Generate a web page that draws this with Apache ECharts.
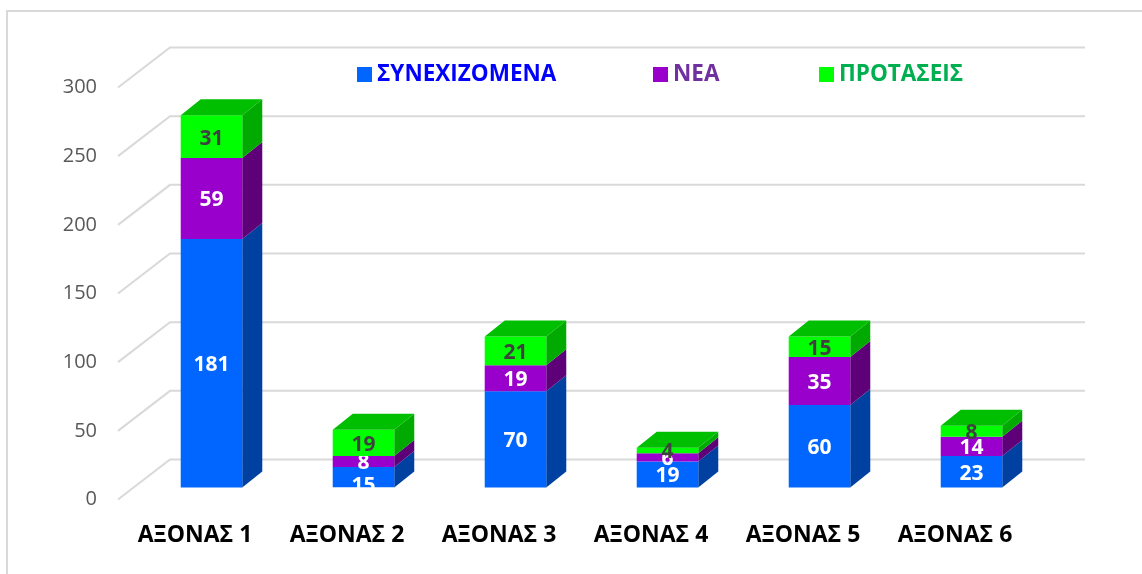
<!DOCTYPE html>
<html>
<head>
<meta charset="utf-8">
<style>html,body{margin:0;padding:0;background:#fff}#c{width:1142px;height:574px}</style>
<script src="https://cdn.jsdelivr.net/npm/echarts@6/dist/echarts.min.js"></script>
</head>
<body>
<div id="c"></div>
<script>
const categories = ['ΑΞΟΝΑΣ 1','ΑΞΟΝΑΣ 2','ΑΞΟΝΑΣ 3','ΑΞΟΝΑΣ 4','ΑΞΟΝΑΣ 5','ΑΞΟΝΑΣ 6'];
const continuing = [181,15,70,19,60,23];
const fresh = [59,8,19,6,35,14];
const proposals = [31,19,21,4,15,8];
const yTicks = [0,50,100,150,200,250,300];
const FONT = '"Open Sans", sans-serif';

const chart = echarts.init(document.getElementById('c'), null, {renderer:'canvas'});

const stackRows = (function(){
  const rows = [];
  const acc = categories.map(function(){return 0;});
  [continuing,fresh,proposals].forEach(function(arr){
    rows.push(arr.map(function(v,i){const r=[i,acc[i],acc[i]+v,v];acc[i]+=v;return r;}));
  });
  return rows;
})();

function barRenderer(front, side, top, labelColor, isTop){
  return function(params, api){
    const i = api.value(0), lo = api.value(1), hi = api.value(2), val = api.value(3);
    const a = api.coord([i,lo]), b = api.coord([i,hi]);
    const w = api.size([1,0])[0]*0.405;
    const ox = 16.5, oy = -12, dx = 20, dy = -16;
    const x0 = a[0]+ox-w/2, x1 = x0+w, y0 = a[1]+oy, y1 = b[1]+oy;
    const children = [
      {type:'polygon',shape:{points:[[x1,y0],[x1+dx,y0+dy],[x1+dx,y1+dy],[x1,y1]]},style:{fill:side}},
      {type:'rect',shape:{x:x0,y:y1,width:w,height:y0-y1},style:{fill:front}}
    ];
    if(isTop){
      children.push({type:'polygon',shape:{points:[[x0,y1],[x0+dx,y1+dy],[x1+dx,y1+dy],[x1,y1]]},style:{fill:top}});
    }
    // the reference pushes the label of the thin bottom segment of ΑΞΟΝΑΣ 2 down and cuts it at the floor
    const sunk = (lo === 0 && y0 - y1 < 24);
    const cy = (y0+y1)/2 + (sunk ? 9 : 2);
    children.push({type:'text',style:{text:String(val),x:(x0+x1)/2,y:cy,align:'center',verticalAlign:'middle',
      font:'bold 21px '+FONT,fill:labelColor}});
    if(sunk){
      children.push({type:'rect',shape:{x:x0,y:y0,width:w,height:14},style:{fill:'#ffffff'}});
    }
    return {type:'group',children:children};
  };
}

function gridRenderer(params, api){
  const v = api.value(0);
  const p = api.coord([0,v]);
  const cs = params.coordSys;
  const xa = cs.x-1, xb = xa+52, xe = cs.x+cs.width+54, y = p[1];
  return {type:'polyline',shape:{points:[[xa,y],[xb,y-40],[xe,y-40]]},
    style:{stroke:'#d9d9d9',lineWidth:2,fill:null}};
}

const legendBase = {top:58,itemWidth:15,itemHeight:15,icon:'rect',selectedMode:false};
function mkLegend(name,left,color){
  return Object.assign({},legendBase,{left:left,data:[name],
    textStyle:{color:color,fontFamily:FONT,fontWeight:'bold',fontSize:22.5}});
}

chart.setOption({
  animation:false,
  backgroundColor:'#ffffff',
  grid:{left:119,top:87.5,width:912,height:412,containLabel:false},
  graphic:[
    {type:'polyline',shape:{points:[[7,574],[7,11],[1142,11]]},style:{stroke:'#d9d9d9',lineWidth:2,fill:null},silent:true}
  ],
  legend:[
    mkLegend('ΣΥΝΕΧΙΖΟΜΕΝΑ',352,'#0000ff'),
    mkLegend('ΝΕΑ',648,'#7030a0'),
    mkLegend('ΠΡΟΤΑΣΕΙΣ',814,'#00b050')
  ],
  xAxis:{type:'category',data:categories,axisLine:{show:false},axisTick:{show:false},
    axisLabel:{margin:24,color:'#000',fontFamily:FONT,fontWeight:'bold',fontSize:23,interval:0}},
  yAxis:{type:'value',min:0,max:300,interval:50,axisLine:{show:false},axisTick:{show:false},splitLine:{show:false},
    axisLabel:{margin:22,color:'#595959',fontFamily:FONT,fontSize:20,padding:[3,0,0,0]}},
  series:[
    {type:'custom',name:'grid',silent:true,data:yTicks.map(function(t){return [t];}),renderItem:gridRenderer,z:1,encode:{y:0}},
    {type:'custom',name:'ΣΥΝΕΧΙΖΟΜΕΝΑ',itemStyle:{color:'#0066ff'},data:stackRows[0],
      renderItem:barRenderer('#0066ff','#0040a0','#0066ff','#ffffff',false),encode:{x:0,y:[1,2]},z:3},
    {type:'custom',name:'ΝΕΑ',itemStyle:{color:'#9900cc'},data:stackRows[1],
      renderItem:barRenderer('#9900cc','#5e0078','#9900cc','#ffffff',false),encode:{x:0,y:[1,2]},z:4},
    {type:'custom',name:'ΠΡΟΤΑΣΕΙΣ',itemStyle:{color:'#00ff00'},data:stackRows[2],
      renderItem:barRenderer('#00ff00','#00aa00','#00be00','#404040',true),encode:{x:0,y:[1,2]},z:5}
  ]
});
</script>
</body>
</html>
